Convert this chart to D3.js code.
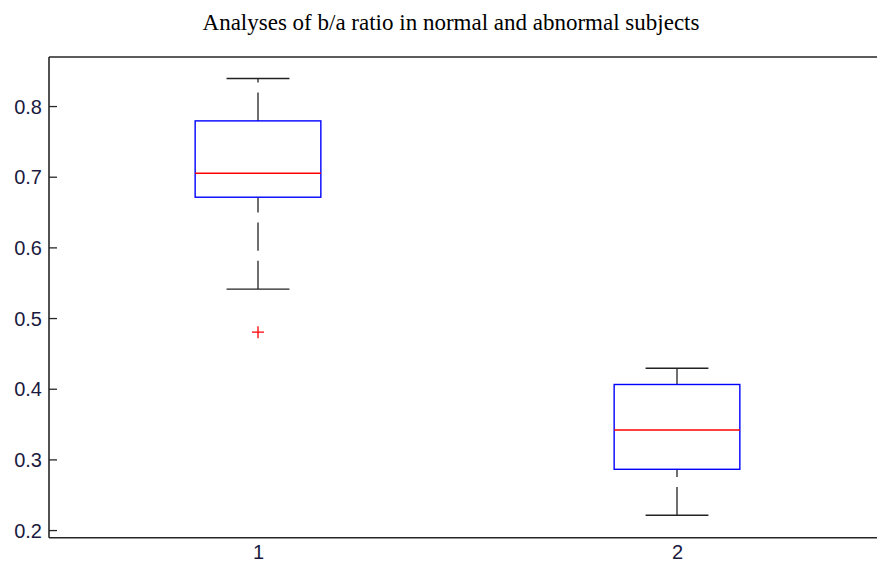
<!DOCTYPE html>
<html><head><meta charset="utf-8">
<script src="https://cdn.jsdelivr.net/npm/d3@7"></script>
<style>body{margin:0;background:#fff}svg{display:block}</style>
</head><body>
<script>
const groups = ["1", "2"];
const q1 = [0.671, 0.286];
const median = [0.705, 0.3415];
const q3 = [0.779, 0.406];
const lowerWhisker = [0.541, 0.221];
const upperWhisker = [0.839, 0.429];
const outliers = [[0.48], []];
const yTicks = [0.2, 0.3, 0.4, 0.5, 0.6, 0.7, 0.8];
const title = "Analyses of b/a ratio in normal and abnormal subjects";

const W = 877, H = 562;
const svg = d3.select("body").append("svg").attr("width", W).attr("height", H);

const x = d3.scaleLinear().domain([0.5, 2.5]).range([48.5, 886.5]);
const y = d3.scaleLinear().domain([0.1892, 0.8694]).range([537.7, 57]);

const boxW = 0.3, capW = 0.15;
const g = svg.append("g");

groups.forEach((name, i) => {
  const cx = x(i + 1);
  const bx0 = x(i + 1 - boxW / 2), bx1 = x(i + 1 + boxW / 2);
  const cx0 = x(i + 1 - capW / 2), cx1 = x(i + 1 + capW / 2);
  // whiskers (drawn from low to high value, dashed)
  g.append("line").attr("x1", cx).attr("x2", cx)
    .attr("y1", y(lowerWhisker[i])).attr("y2", y(q1[i]))
    .attr("stroke", "#222").attr("stroke-width", 1.3).attr("stroke-dasharray", "28.3,10");
  g.append("line").attr("x1", cx).attr("x2", cx)
    .attr("y1", y(q3[i])).attr("y2", y(upperWhisker[i]))
    .attr("stroke", "#222").attr("stroke-width", 1.3).attr("stroke-dasharray", "28.3,10");
  // caps
  [lowerWhisker[i], upperWhisker[i]].forEach(v => {
    g.append("line").attr("x1", cx0).attr("x2", cx1).attr("y1", y(v)).attr("y2", y(v))
      .attr("stroke", "#222").attr("stroke-width", 1.3);
  });
  // box
  g.append("rect").attr("x", bx0).attr("y", y(q3[i]))
    .attr("width", bx1 - bx0).attr("height", y(q1[i]) - y(q3[i]))
    .attr("fill", "none").attr("stroke", "#0000ff").attr("stroke-width", 1.4);
  // median
  g.append("line").attr("x1", bx0).attr("x2", bx1).attr("y1", y(median[i])).attr("y2", y(median[i]))
    .attr("stroke", "#ff0000").attr("stroke-width", 1.4);
  // outliers
  outliers[i].forEach(v => {
    const py = y(v);
    g.append("path").attr("d", `M${cx - 6},${py}H${cx + 6}M${cx},${py - 6}V${py + 6}`)
      .attr("stroke", "#ff0000").attr("stroke-width", 1.3).attr("fill", "none");
  });
});

// Axes frame
const axisColor = "#262626";
const yAxis = d3.axisLeft(y).tickValues(yTicks).tickSizeInner(-8).tickSizeOuter(0).tickPadding(7)
  .tickFormat(d3.format(".1f"));
const ya = svg.append("g").attr("transform", "translate(49,0)").call(yAxis);
ya.select(".domain").attr("stroke", axisColor).attr("stroke-width", 1.6)
  .attr("d", `M0,${y.range()[1]}V${y.range()[0]}`);
ya.selectAll(".tick line").attr("stroke", axisColor).attr("stroke-width", 1.3);
ya.selectAll(".tick text").attr("fill", "#1a1a40").attr("font-family", "Liberation Sans, Arial, sans-serif")
  .attr("font-size", 20).attr("dy", "0.36em");

const xAxis = d3.axisBottom(x).tickValues([1, 2]).tickFormat((d, i) => groups[i]).tickSize(0).tickPadding(7);
const xa = svg.append("g").attr("transform", `translate(0,${y.range()[0]})`).call(xAxis);
xa.select(".domain").attr("stroke", axisColor).attr("stroke-width", 1.6)
  .attr("d", `M49,0H${W + 5}`);
xa.selectAll(".tick text").attr("fill", "#1a1a40").attr("font-family", "Liberation Sans, Arial, sans-serif")
  .attr("font-size", 20);

svg.append("line").attr("x1", 49).attr("x2", W + 5).attr("y1", 57).attr("y2", 57)
  .attr("stroke", axisColor).attr("stroke-width", 1.6);

svg.append("text").attr("x", 451).attr("y", 30).attr("text-anchor", "middle")
  .attr("font-family", "Liberation Serif, Times New Roman, serif").attr("font-size", 23)
  .attr("fill", "#000").text(title);
</script>
</body></html>
